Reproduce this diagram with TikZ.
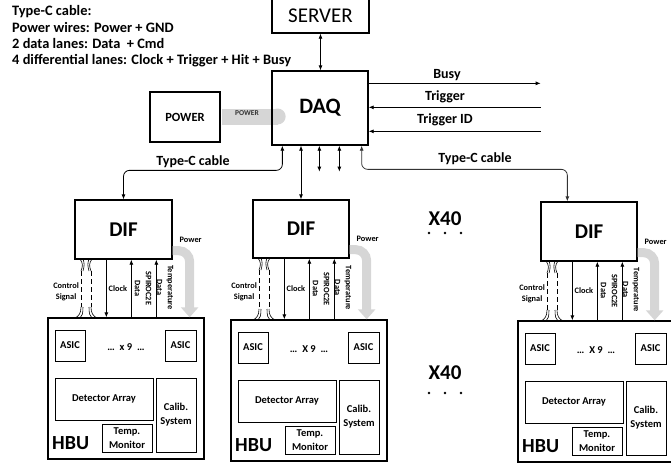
\documentclass[tikz,border=0pt]{standalone}
\usepackage{fontspec}
\setmainfont{Carlito}
\usetikzlibrary{arrows.meta,calc}
\newcommand{\fsz}[2]{\fontsize{#1}{#2}\selectfont}
\begin{document}
\begin{tikzpicture}[x={(1pt,0pt)}, y={(0pt,-1pt)},
  >={Latex[length=5pt,width=4pt]},
  box/.style={draw, line width=1.3pt, inner sep=0pt},
  part/.style={draw, line width=0.9pt, inner sep=0pt, font=\bfseries\fsz{10.5}{13}, align=center},
  wire/.style={line width=0.8pt},
  lbl/.style={font=\bfseries\fsz{14}{14}, inner sep=0pt},
  legend/.style={font=\bfseries\fsz{14.4}{14.4}, inner sep=0pt, anchor=base west},
  tiny/.style={font=\bfseries\fsz{8.3}{11}, inner sep=0pt, align=center},
  band/.style={fill=black!16},
  feed/.style={line width=9pt, draw=black!16, rounded corners=11pt, -{Triangle[length=10pt,width=17pt]}},
  tube/.style={line width=0.8pt, dash pattern=on 5pt off 3pt},
  strand/.style={line width=0.6pt},
  bigbold/.style={font=\bfseries\fsz{21}{21}},
  size/.style args={#1x#2}{minimum width=#1pt, minimum height=#2pt},
]
\useasboundingbox (0,0) rectangle (671,463);

% cable legend
\node[legend] (t1) at (12,15) {Type-C cable:};
\node[legend] (t2) at (12,32) {Power wires: Power + GND};
\node[legend] (t3) at (12,48) {2 data lanes: Data~ + Cmd};
\node[legend] (t4) at (12,64) {4 differential lanes: Clock + Trigger + Hit + Busy};

% server, power supply and DAQ
\node[box, size=97x35, font=\fsz{21}{21}] (server) at (320.5,15.5) {SERVER};
\node[box, size=70x50, font=\bfseries\fsz{12.5}{12.5}] (power) at (185,117) {POWER};
\fill[band] ($(power.east)+(1,-8.5)$) rectangle ($(power.east)+(57,7.5)$);
\fill[band] ($(power.east)+(57,-0.5)$) circle (8);
\node[font=\bfseries\fsz{7.5}{7.5}, text=black!80, inner sep=0pt] (bandlbl) at (247,113) {POWER};
\node[box, size=96x74, font=\bfseries\fsz{22}{22}] (daq) at (320,108) {DAQ};

\draw[wire,<->] (server.south) -- (server.south |- daq.north);

% trigger interface
\coordinate (busyA) at ($(daq.north east)+(0,13)$);
\coordinate (busyB) at ($(busyA)+(172,0)$);
\draw[wire,->] (busyA) -- (busyB);
\coordinate (trgA) at ($(daq.north east)+(172,37)$);
\draw[wire,->] (trgA) -- (trgA -| daq.east);
\coordinate (tidA) at ($(daq.north east)+(172,61)$);
\draw[wire,->] (tidA) -- (tidA -| daq.east);
\node[lbl, anchor=base] (busyl) at (447,78) {Busy};
\node[lbl, anchor=base] (trgl) at (445,100) {Trigger};
\node[lbl, anchor=base] (tidl) at (445,123) {Trigger ID};

% DIF boards
\node[box, size=97x59, bigbold] (dif1) at (123.5,229.5) {DIF};
\node[box, size=96x58, bigbold] (dif2) at (301,229) {DIF};
\node[box, size=96x59, bigbold] (dif3) at (589,231.5) {DIF};

% DAQ to DIF cables
\coordinate (qa) at ($(daq.south west)+(11,0)$);
\draw[wire,<->,rounded corners=6pt] (qa) |- ($(dif1.north)+(0,-29)$) -- (dif1.north);
\node[lbl, anchor=base] (tcl) at (193,165) {Type-C cable};
\coordinate (qb) at ($(daq.south east)+(-7,0)$);
\coordinate (tc3) at ($(dif3.north west)+(27,0)$);
\draw[wire,<->,rounded corners=6pt,draw=black!80] (qb) |- ($(tc3)+(0,-32)$) -- (tc3);
\node[lbl, anchor=base] (tcr) at (475,162) {Type-C cable};
\draw[wire,<->] (daq.south -| dif2.north) -- (dif2.north);
\coordinate (qc) at ($(daq.south west)+(48,0)$);
\coordinate (qce) at ($(qc)+(0,26)$);
\draw[wire,<->] (qc) -- (qce);
\coordinate (qd) at ($(daq.south west)+(68,0)$);
\coordinate (qde) at ($(qd)+(0,26)$);
\draw[wire,<->] (qd) -- (qde);

% multiplicity marks
\node[bigbold, inner sep=0pt] (x40a) at (445,219) {X40};
\node[bigbold, inner sep=0pt] (x40b) at (445,373) {X40};
\foreach \dx in {429,445,461} {
  \fill (\dx,233) circle (1.4);
  \fill (\dx,393) circle (1.4);
}

% HBU boards
\foreach \i/\hx/\hy/\xm in {1/48/318/x, 2/231/320/X, 3/518/321/X} {
  \node[box, size=156x141] (hbu\i) at (\hx+78,\hy+70.5) {};
  \node[part, size=30x31] (asicA\i) at (\hx+22,\hy+27.5) {ASIC};
  \node[part, size=31x31] (asicB\i) at (\hx+132.5,\hy+27.5) {ASIC};
  \node[font=\bfseries\fsz{10.5}{10.5}, inner sep=0pt] (mult\i) at (\hx+78,\hy+29) {\ldots\hspace{5pt}\xm\ 9\hspace{5pt}\ldots};
  \node[part, size=98x42] (det\i) at (\hx+56,\hy+81) {Detector Array};
  \node[part, size=40x74, font=\bfseries\fsz{10.5}{14}] (cal\i) at (\hx+128,\hy+97) {Calib.\\System};
  \node[part, size=50x28, font=\bfseries\fsz{10.5}{13.5}] (tmp\i) at (\hx+79,\hy+120) {Temp.\\Monitor};
  \node[font=\bfseries\fsz{20}{20}, anchor=west, inner sep=0pt] (hbul\i) at (\hx+4,\hy+125) {HBU};
}

% DIF to HBU links
\foreach \i/\dlx/\dby/\hty in {1/75/259/318, 2/253/258/320, 3/541/261/321} {
  \pgfmathsetmacro{\cx}{\dlx+11}
  \pgfmathsetmacro{\my}{(\dby+\hty)/2}
  % control signal bundle
  \draw[tube] (\cx-5,\dby+12) -- (\cx-5,\hty-11) (\cx+5,\dby+12) -- (\cx+5,\hty-11);
  \foreach \s in {-1,1} {
    \draw[strand] (\cx+5*\s,\dby+12) .. controls (\cx+3*\s,\dby+7) and (\cx+3*\s,\dby+4) .. (\cx+6*\s,\dby);
    \draw[strand] (\cx+3*\s,\dby+12) .. controls (\cx+1.5*\s,\dby+7) and (\cx+1.5*\s,\dby+4) .. (\cx+3*\s,\dby);
    \draw[strand] (\cx+5*\s,\hty-11) .. controls (\cx+5*\s,\hty-5) and (\cx+7*\s,\hty-2) .. (\cx+11*\s,\hty);
    \draw[strand] (\cx+3*\s,\hty-11) .. controls (\cx+3*\s,\hty-4) and (\cx+4*\s,\hty-2) .. (\cx+6*\s,\hty);
  }
  \node[tiny, anchor=east] (csl\i) at (\cx-7,\my+3) {Control\\Signal};
  % clock and data lines
  \coordinate (clk\i) at ($(dif\i.south west)+(32,0)$);
  \coordinate (spi\i) at ($(dif\i.south west)+(57,0)$);
  \coordinate (tpd\i) at ($(dif\i.south west)+(82,0)$);
  \draw[wire,->] (clk\i) -- (clk\i |- hbu\i.north);
  \draw[wire,<-] (spi\i) -- (spi\i |- hbu\i.north);
  \draw[wire,<-] (tpd\i) -- (tpd\i |- hbu\i.north);
  \node[tiny, anchor=west] (clkl\i) at (\dlx+33.5,\my) {Clock};
  \node[tiny, rotate=-90] (spil\i) at (\dlx+68,\my) {SPIROC2E\\Data};
  \node[tiny, rotate=-90] (tpdl\i) at (\dlx+90,\my-1) {Temperature\\Data};
  % power feed
  \coordinate (pa\i) at ($(dif\i.south east)+(0,-9)$);
  \coordinate (pb\i) at ($(dif\i.south east)+(17,-9)$);
  \draw[feed] (pa\i) -- (pb\i) -- (pb\i |- hbu\i.north);
  \node[tiny] (pwl\i) at ($(dif\i.south east)+(18,-20)$) {Power};
}
\end{tikzpicture}
\end{document}
